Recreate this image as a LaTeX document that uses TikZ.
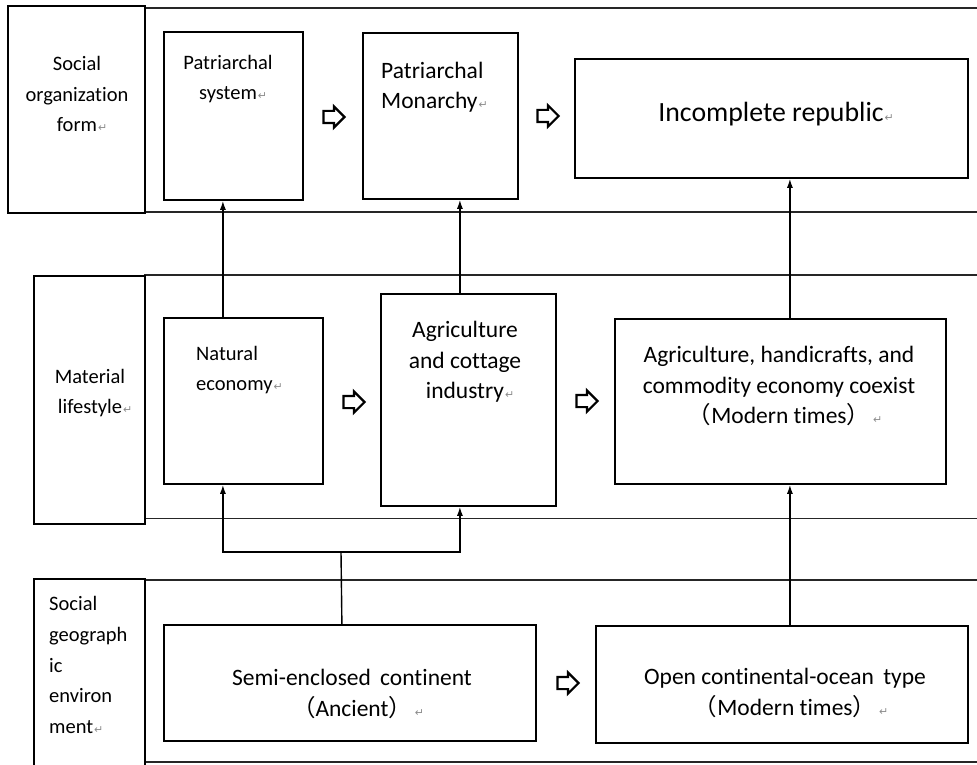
\documentclass[tikz,border=0pt]{standalone}
\usepackage{fontspec}
\setmainfont{Carlito}[Ligatures=NoCommon]
\newfontfamily\cjkfont{Noto Sans CJK SC}
\newfontfamily\symfont{DejaVu Sans}
\usetikzlibrary{arrows.meta,shapes.arrows}
% Word paragraph mark, kept out of the centring
\newcommand{\retmark}[1][1pt]{\rlap{\hspace{#1}\symfont\fontsize{11}{11}\selectfont\color{black!45}↵}}
\newcommand{\lpar}{{\cjkfont （}}
\newcommand{\rpar}{{\cjkfont ）}}
\tikzset{
  pxgrid/.style={x=1pt, y=-1pt},
  bandline/.style={black!85, line width=1.4pt},
  rowhead/.style={draw, line width=2.2pt, inner sep=0pt, anchor=north west},
  stagebox/.style={draw, line width=1.8pt, inner sep=0pt, anchor=north west},
  txt/.style={inner sep=0pt, align=center},
  small/.style={font=\fontsize{20.5}{30.7}\selectfont},
  mid/.style={font=\fontsize{23.5}{30.5}\selectfont},
  big/.style={font=\fontsize{27.8}{32}\selectfont},
  hollow/.style={single arrow, draw, line width=2.2pt, minimum height=21pt,
    minimum width=0pt, inner xsep=0pt, inner ysep=5pt,
    single arrow head extend=4.5pt},
  up/.style={line width=1.4pt, -{Latex[length=9pt,width=6pt]}},
  link/.style={line width=1.4pt},
}

\begin{document}
\begin{tikzpicture}[pxgrid]
  \useasboundingbox (0,0) rectangle (977,765);
  % rules between the three rows
  \foreach \y in {8,212,275,518.5,580,762}
    \draw[bandline] (144,\y) -- (977,\y);
  % row headings
  \node[rowhead, minimum width=137pt, minimum height=207pt] (orgrow) at (7,5) {};
  \node[rowhead, minimum width=111pt, minimum height=248pt] (matrow) at (33,275) {};
  \node[rowhead, minimum width=111pt, minimum height=200pt] (georow) at (33,578) {};
  \node[txt, small] (orgtxt) at (77,94) {Social\\organization\\form\retmark};
  \node[txt, small] (mattxt) at (90,393) {Material\\lifestyle\retmark};
  \node[txt, small, align=left, anchor=west] (geotxt) at (49,665)
       {Social\\geograph\\ic\\environ\\ment\retmark};
  % social organization form
  \node[stagebox, minimum width=139pt, minimum height=168pt] (patsys) at (163,31) {};
  \node[stagebox, minimum width=155pt, minimum height=166pt] (patmon) at (362,32) {};
  \node[stagebox, minimum width=393pt, minimum height=119pt] (increp) at (574,58) {};
  \node[txt, small] (patsystxt) at (228,79) {Patriarchal\\system\retmark};
  \node[txt, mid, align=left, anchor=west] (patmontxt) at (381,87) {Patriarchal\\Monarchy\retmark};
  \node[txt, big] (increptxt) at (771,114) {Incomplete republic\retmark};
  % material lifestyle
  \node[stagebox, minimum width=159pt, minimum height=166pt] (natec) at (163,317) {};
  \node[stagebox, minimum width=175pt, minimum height=212pt] (agcot) at (380,293) {};
  \node[stagebox, minimum width=331pt, minimum height=165pt] (coex) at (614,318) {};
  \node[txt, small, align=left, anchor=west] (natectxt) at (196,370) {Natural\\economy\retmark};
  \node[txt, mid] (agcottxt) at (465,362) {Agriculture\\and cottage\\industry\retmark};
  \node[txt, mid] (coextxt) at (779,386)
       {Agriculture, handicrafts, and\\commodity economy coexist\\\lpar Modern times\rpar\retmark[3pt]};
  % social geographic environment
  \node[stagebox, minimum width=372pt, minimum height=116pt] (semi) at (163,624) {};
  \node[stagebox, minimum width=372pt, minimum height=117pt] (open) at (595,625) {};
  \node[txt, mid] (semitxt) at (352,694) {Semi-enclosed~\,continent\\\lpar Ancient\rpar\retmark[3pt]};
  \node[txt, mid] (opentxt) at (785,693) {Open continental-ocean~\,type\\\lpar Modern times\rpar\retmark[3pt]};
  % hollow arrows between stages
  \node[hollow] (shift1) at (331,117) {};
  \node[hollow] (shift2) at (545,116) {};
  \node[hollow] (shift3) at (351,402) {};
  \node[hollow] (shift4) at (584,401) {};
  \node[hollow] (shift5) at (565,683) {};
  % connectors
  \draw[up] ([xshift=-20.5pt]natec.north) -- ([xshift=-20.5pt]natec.north |- patsys.south);
  \draw[up] ([xshift=-8.5pt]agcot.north) -- ([xshift=-8.5pt]agcot.north |- patmon.south);
  \draw[up] ([xshift=9.5pt]coex.north) -- ([xshift=9.5pt]coex.north |- increp.south);
  \coordinate (fork) at (341,552);
  \draw[link] ([xshift=-8pt]semi.north) -- (fork);
  \draw[up] (fork) -| ([xshift=-20.5pt]natec.south);
  \draw[up] (fork) -| ([xshift=-8.5pt]agcot.south);
  \draw[up] ([xshift=8pt]open.north) -- ([xshift=8pt]open.north |- coex.south);
\end{tikzpicture}
\end{document}
